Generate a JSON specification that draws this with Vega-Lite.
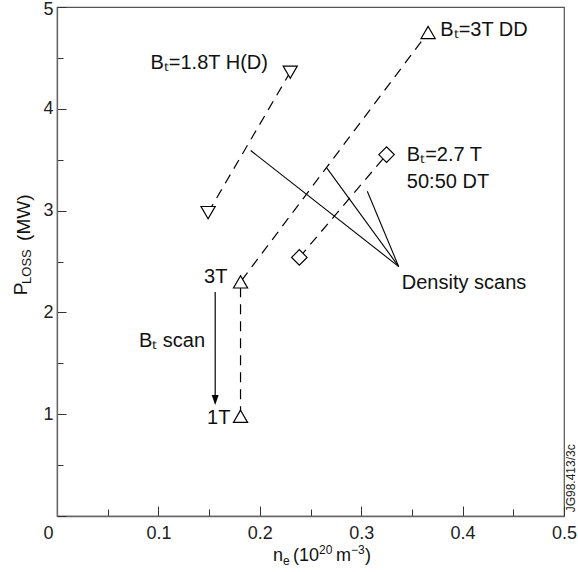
{
  "$schema": "https://vega.github.io/schema/vega-lite/v6.json",
  "width": 507,
  "height": 509,
  "autosize": "none",
  "padding": {"left": 57, "top": 7, "right": 14, "bottom": 56},
  "background": "white",
  "config": {
    "view": {"stroke": "#555", "strokeWidth": 1.2},
    "font": "Liberation Sans",
    "axis": {
      "grid": false,
      "domainColor": "#666",
      "domainWidth": 1.3,
      "tickColor": "#333",
      "tickWidth": 1,
      "labelFont": "Liberation Sans",
      "labelFontSize": 18,
      "labelColor": "#222",
      "titleFont": "Liberation Sans",
      "titleFontSize": 18,
      "titleFontWeight": "normal",
      "titleColor": "#222"
    }
  },
  "datasets": {
    "dashed": [
      {"s": "a", "i": 1, "n": 0.149, "p": 2.98},
      {"s": "a", "i": 2, "n": 0.230, "p": 4.36},
      {"s": "b", "i": 1, "n": 0.181, "p": 0.98},
      {"s": "b", "i": 2, "n": 0.181, "p": 2.30},
      {"s": "b", "i": 3, "n": 0.366, "p": 4.75},
      {"s": "c", "i": 1, "n": 0.239, "p": 2.54},
      {"s": "c", "i": 2, "n": 0.325, "p": 3.55}
    ],
    "points": [
      {"g": "1.8T H(D)", "n": 0.149, "p": 2.98},
      {"g": "1.8T H(D)", "n": 0.230, "p": 4.36},
      {"g": "3T DD", "n": 0.181, "p": 0.98},
      {"g": "3T DD", "n": 0.181, "p": 2.30},
      {"g": "3T DD", "n": 0.366, "p": 4.75},
      {"g": "2.7T DT", "n": 0.239, "p": 2.54},
      {"g": "2.7T DT", "n": 0.325, "p": 3.55}
    ],
    "scans": [
      {"n": 0.337, "p": 2.45, "n2": 0.191, "p2": 3.59},
      {"n": 0.337, "p": 2.45, "n2": 0.266, "p2": 3.42},
      {"n": 0.337, "p": 2.45, "n2": 0.306, "p2": 3.19}
    ],
    "arrow": [{"n": 0.156, "p": 2.20, "p2": 1.14}],
    "arrowhead": [{"n": 0.156, "p": 1.14}],
    "labelsLeft": [
      {"n": 0.378, "p": 4.77, "t": "Bₜ=3T DD"},
      {"n": 0.345, "p": 3.55, "t": "Bₜ=2.7 T"},
      {"n": 0.345, "p": 3.28, "t": "50:50 DT"},
      {"n": 0.340, "p": 2.29, "t": "Density scans"}
    ],
    "labelsRight": [
      {"n": 0.208, "p": 4.45, "t": "Bₜ=1.8T H(D)"},
      {"n": 0.168, "p": 2.35, "t": "3T"},
      {"n": 0.171, "p": 0.96, "t": "1T"},
      {"n": 0.146, "p": 1.72, "t": "Bₜ scan"}
    ],
    "ytitle": [
      {"n": -0.0355, "p": 2.23, "t": "P"},
      {"n": -0.0325, "p": 2.93, "t": "(MW)"}
    ],
    "ytitleSub": [
      {"n": -0.0296, "p": 2.45, "t": "LOSS"}
    ],
    "xtitleMain": [
      {"n": 0.2130, "p": -0.44, "t": "n"},
      {"n": 0.2327, "p": -0.44, "t": "(10"},
      {"n": 0.2751, "p": -0.44, "t": "m"},
      {"n": 0.3037, "p": -0.44, "t": ")"}
    ],
    "xtitleSub": [
      {"n": 0.2229, "p": -0.48, "t": "e"}
    ],
    "xtitleSup": [
      {"n": 0.2584, "p": -0.372, "t": "20"},
      {"n": 0.2899, "p": -0.372, "t": "−3"}
    ],
    "stamp": [
      {"n": 0.507, "p": 0.37, "t": "JG98.413/3c"}
    ]
  },
  "encoding": {
    "x": {
      "field": "n", "type": "quantitative",
      "scale": {"domain": [0, 0.5], "nice": false, "zero": false},
      "axis": {
        "title": null,
        "values": [0, 0.05, 0.1, 0.15, 0.2, 0.25, 0.3, 0.35, 0.4, 0.45, 0.5],
        "labelExpr": "abs(datum.value*10 - round(datum.value*10)) < 0.001 ? (datum.value == 0 ? '0' : format(datum.value, '.1f')) : ''",
        "labelOffset": {"condition": {"test": "datum.value == 0", "value": -9}, "value": 0},
        "tickSize": {"condition": {"test": "abs(datum.value*10 - round(datum.value*10)) < 0.001", "value": -10}, "value": -7},
        "labelPadding": 18,
        "labelFlush": false
      }
    },
    "y": {
      "field": "p", "type": "quantitative",
      "scale": {"domain": [0, 5], "nice": false, "zero": false},
      "axis": {
        "title": null,
        "values": [0, 0.5, 1, 1.5, 2, 2.5, 3, 3.5, 4, 4.5, 5],
        "labelExpr": "datum.value > 0 && abs(datum.value - round(datum.value)) < 0.001 ? format(datum.value, 'd') : ''",
        "labelOffset": {"condition": {"test": "datum.value == 5", "value": 2}, "value": 0},
        "tickSize": {"condition": {"test": "abs(datum.value - round(datum.value)) < 0.001", "value": -9}, "value": -6},
        "labelPadding": 13,
        "labelFlush": false
      }
    }
  },
  "layer": [
    {
      "data": {"name": "dashed"},
      "mark": {"type": "line", "color": "black", "strokeWidth": 1.2, "strokeDash": [10, 7]},
      "encoding": {
        "detail": {"field": "s"},
        "order": {"field": "i"}
      }
    },
    {
      "data": {"name": "scans"},
      "mark": {"type": "rule", "color": "black", "strokeWidth": 1.1},
      "encoding": {
        "x2": {"field": "n2"},
        "y2": {"field": "p2"}
      }
    },
    {
      "data": {"name": "arrow"},
      "mark": {"type": "rule", "color": "black", "strokeWidth": 1.2},
      "encoding": {
        "y2": {"field": "p2"}
      }
    },
    {
      "data": {"name": "arrowhead"},
      "mark": {"type": "point", "shape": "M-0.7,-1L0.7,-1L0,1Z", "filled": true, "color": "black", "size": 100, "opacity": 1},
      "encoding": {}
    },
    {
      "data": {"name": "points"},
      "mark": {"type": "point", "filled": false, "fill": "white", "fillOpacity": 1, "stroke": "black", "strokeWidth": 1.2, "opacity": 1},
      "encoding": {
        "shape": {
          "field": "g", "type": "nominal",
          "scale": {"domain": ["1.8T H(D)", "3T DD", "2.7T DT"], "range": ["triangle-down", "triangle-up", "diamond"]},
          "legend": null
        },
        "size": {"condition": {"test": "datum.g == '2.7T DT'", "value": 240}, "value": 200}
      }
    },
    {
      "data": {"name": "labelsLeft"},
      "mark": {"type": "text", "align": "left", "baseline": "middle", "font": "Liberation Sans", "fontSize": 20, "color": "#111"},
      "encoding": {"text": {"field": "t"}}
    },
    {
      "data": {"name": "labelsRight"},
      "mark": {"type": "text", "align": "right", "baseline": "middle", "font": "Liberation Sans", "fontSize": 20, "color": "#111"},
      "encoding": {"text": {"field": "t"}}
    },
    {
      "data": {"name": "ytitle"},
      "mark": {"type": "text", "align": "center", "baseline": "middle", "angle": 270, "font": "Liberation Sans", "fontSize": 19, "color": "#111"},
      "encoding": {"text": {"field": "t"}}
    },
    {
      "data": {"name": "ytitleSub"},
      "mark": {"type": "text", "align": "center", "baseline": "middle", "angle": 270, "font": "Liberation Sans", "fontSize": 13, "color": "#111"},
      "encoding": {"text": {"field": "t"}}
    },
    {
      "data": {"name": "xtitleMain"},
      "mark": {"type": "text", "align": "left", "baseline": "alphabetic", "font": "Liberation Sans", "fontSize": 18, "color": "#111"},
      "encoding": {"text": {"field": "t"}}
    },
    {
      "data": {"name": "xtitleSub"},
      "mark": {"type": "text", "align": "left", "baseline": "alphabetic", "font": "Liberation Sans", "fontSize": 12, "color": "#111"},
      "encoding": {"text": {"field": "t"}}
    },
    {
      "data": {"name": "xtitleSup"},
      "mark": {"type": "text", "align": "left", "baseline": "alphabetic", "font": "Liberation Sans", "fontSize": 12, "color": "#111"},
      "encoding": {"text": {"field": "t"}}
    },
    {
      "data": {"name": "stamp"},
      "mark": {"type": "text", "align": "center", "baseline": "middle", "angle": 270, "font": "Liberation Sans", "fontSize": 12, "color": "#222"},
      "encoding": {"text": {"field": "t"}}
    }
  ]
}
